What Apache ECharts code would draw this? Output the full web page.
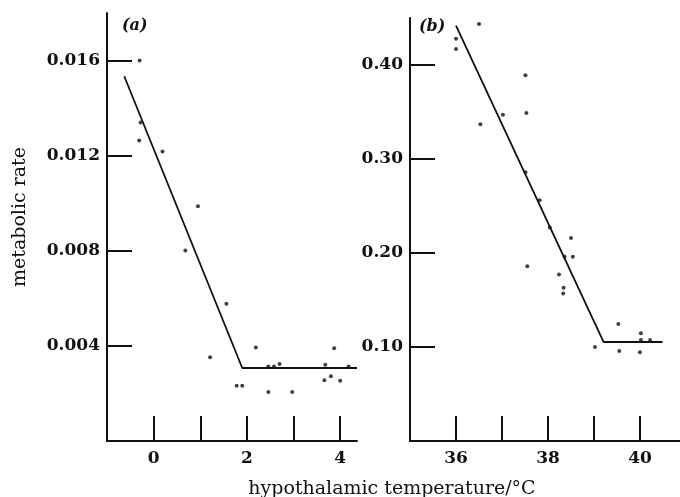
<!DOCTYPE html>
<html>
<head>
<meta charset="utf-8">
<script src="https://cdn.jsdelivr.net/npm/echarts@6/dist/echarts.min.js"></script>
<style>
  html, body { margin: 0; padding: 0; background: #fff; }
  #chart { width: 680px; height: 497px; }
</style>
</head>
<body>
<div id="chart"></div>
<script>
// panel (a) data
const tempA = [-0.30, -0.28, -0.31, 0.19, 0.95, 0.68, 1.56, 1.21, 1.78, 1.90, 2.19, 2.46, 2.58, 2.70, 2.46, 2.97, 3.68, 3.87, 3.66, 3.80, 4.00, 4.18];
const rateA = [0.0160, 0.0134, 0.01264, 0.01218, 0.00987, 0.00801, 0.00577, 0.00352, 0.00232, 0.00232, 0.00393, 0.00313, 0.00313, 0.00324, 0.00206, 0.00206, 0.00321, 0.0039, 0.00256, 0.00272, 0.00253, 0.00313];
const fitTempA = [-0.63, 1.90, 4.36];
const fitRateA = [0.01534, 0.00307, 0.00307];

// panel (b) data
const tempB = [36.5, 36.0, 36.0, 37.51, 37.53, 37.02, 36.53, 37.51, 37.82, 38.04, 38.5, 38.36, 38.54, 37.55, 38.24, 38.34, 38.33, 39.53, 39.02, 39.55, 40.02, 40.0, 40.22, 40.02];
const rateB = [0.4436, 0.428, 0.417, 0.389, 0.349, 0.347, 0.337, 0.286, 0.256, 0.227, 0.216, 0.196, 0.196, 0.186, 0.177, 0.163, 0.157, 0.1245, 0.100, 0.0957, 0.1146, 0.0944, 0.1074, 0.1074];
const fitTempB = [36.0, 39.21, 40.49];
const fitRateB = [0.442, 0.1053, 0.1053];

// ticks and labels
const xTicksA = [0, 1, 2, 3, 4];
const xLabelsA = [0, 2, 4];
const yTicksA = [0.004, 0.008, 0.012, 0.016];
const xTicksB = [36, 37, 38, 39, 40];
const xLabelsB = [36, 38, 40];
const yTicksB = [0.10, 0.20, 0.30, 0.40];

const zip = (xs, ys) => xs.map((x, i) => [x, ys[i]]);

const labelStyle = {
  fontFamily: "DejaVu Serif",
  fontWeight: "bold",
  fontSize: 17,
  color: "#111",
};
const axisLine = { show: true, onZero: false, lineStyle: { color: "#111", width: 2 } };
const tickStyle = { color: "#111", width: 2 };

const chart = echarts.init(document.getElementById("chart"));

const makeX = (gridIndex, min, max, ticks, labels) => ({
  type: "value",
  gridIndex,
  min,
  max,
  interval: 1,
  axisLine,
  splitLine: { show: false },
  axisTick: { show: true, inside: true, length: 25, customValues: ticks, lineStyle: tickStyle },
  axisLabel: { customValues: labels, margin: 9, ...labelStyle },
});

const makeY = (gridIndex, max, interval, ticks, digits) => ({
  type: "value",
  gridIndex,
  min: 0,
  max,
  interval,
  axisLine,
  splitLine: { show: false },
  axisTick: { show: true, inside: true, length: 25, customValues: ticks, lineStyle: tickStyle },
  axisLabel: {
    customValues: ticks,
    margin: 7,
    formatter: (v) => v.toFixed(digits),
    ...labelStyle,
  },
});

const option = {
  backgroundColor: "#fff",
  animation: false,
  grid: [
    { left: 107, width: 250, top: 13, bottom: 56 },
    { left: 410, right: 0, top: 18, bottom: 56 },
  ],
  xAxis: [
    makeX(0, -1, 4.36, xTicksA, xLabelsA),
    makeX(1, 35, 40.87, xTicksB, xLabelsB),
  ],
  yAxis: [
    makeY(0, 0.018, 0.004, yTicksA, 3),
    makeY(1, 0.45, 0.1, yTicksB, 2),
  ],
  graphic: [
    {
      type: "text",
      x: 20,
      y: 217,
      rotation: Math.PI / 2,
      style: {
        text: "metabolic rate",
        fontFamily: "DejaVu Serif",
        fontSize: 19,
        fill: "#111",
        textAlign: "center",
        textVerticalAlign: "middle",
      },
    },
    {
      type: "text",
      x: 392,
      y: 489,
      style: {
        text: "hypothalamic temperature/°C",
        fontFamily: "DejaVu Serif",
        fontSize: 19,
        fill: "#111",
        textAlign: "center",
        textVerticalAlign: "middle",
      },
    },
    {
      type: "text",
      x: 122,
      y: 26,
      style: {
        text: "(a)",
        fontFamily: "DejaVu Serif",
        fontStyle: "italic",
        fontWeight: "bold",
        fontSize: 16,
        fill: "#111",
        textVerticalAlign: "middle",
      },
    },
    {
      type: "text",
      x: 419,
      y: 27,
      style: {
        text: "(b)",
        fontFamily: "DejaVu Serif",
        fontStyle: "italic",
        fontWeight: "bold",
        fontSize: 16,
        fill: "#111",
        textVerticalAlign: "middle",
      },
    },
  ],
  series: [
    {
      type: "scatter",
      xAxisIndex: 0,
      yAxisIndex: 0,
      data: zip(tempA, rateA),
      symbol: "circle",
      symbolSize: 4,
      itemStyle: { color: "#111" },
    },
    {
      type: "line",
      xAxisIndex: 0,
      yAxisIndex: 0,
      data: zip(fitTempA, fitRateA),
      symbol: "none",
      lineStyle: { color: "#111", width: 1.8 },
    },
    {
      type: "scatter",
      xAxisIndex: 1,
      yAxisIndex: 1,
      data: zip(tempB, rateB),
      symbol: "circle",
      symbolSize: 4,
      itemStyle: { color: "#111" },
    },
    {
      type: "line",
      xAxisIndex: 1,
      yAxisIndex: 1,
      data: zip(fitTempB, fitRateB),
      symbol: "none",
      lineStyle: { color: "#111", width: 1.8 },
    },
  ],
};

chart.setOption(option);
</script>
</body>
</html>
